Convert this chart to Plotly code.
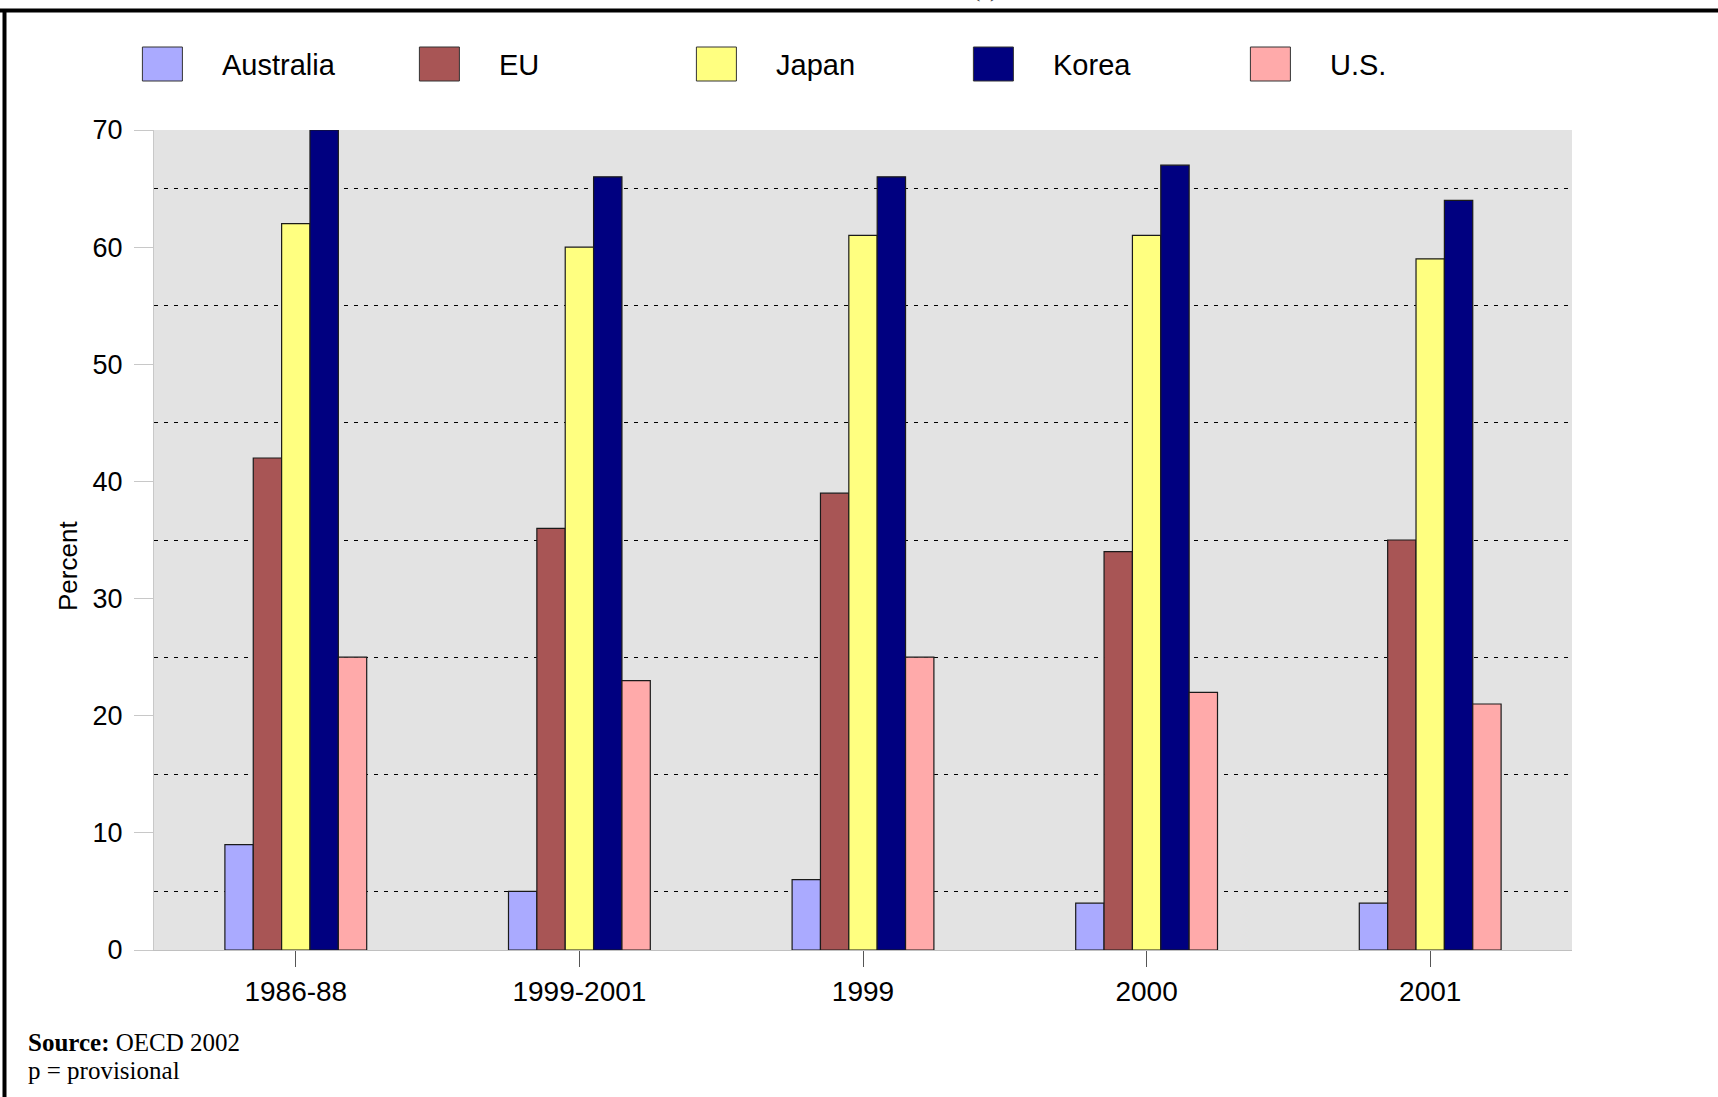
import plotly.graph_objects as go

periods = ['1986-88', '1999-2001', '1999', '2000', '2001']
countries = ['Australia', 'EU', 'Japan', 'Korea', 'U.S.']
australia = [9, 5, 6, 4, 4]
eu = [42, 36, 39, 34, 35]
japan = [62, 60, 61, 61, 59]
korea = [70, 66, 66, 67, 64]
us = [25, 23, 25, 22, 21]
colors = ['#aaaaff', '#a85555', '#ffff80', '#000080', '#ffaaaa']

W, H = 1718, 1097
L, R, T, B = 154, 146, 130, 147


def px_x(px):
    return (px - L) / (W - L - R)


def px_y(py):
    return (H - B - py) / (H - T - B)


fig = go.Figure()
for name, vals, col in zip(countries, [australia, eu, japan, korea, us], colors):
    fig.add_trace(go.Bar(x=periods, y=vals, name=name,
                         marker=dict(color=col, line=dict(color='#1a1a1a', width=1.2))))

fig.update_layout(
    width=W, height=H,
    margin=dict(l=L, r=R, t=T, b=B, pad=0),
    barmode='group', bargap=0.5, bargroupgap=0,
    plot_bgcolor='#e3e3e3', paper_bgcolor='white',
    showlegend=False,
    font=dict(family='Liberation Sans, Arial', color='black'),
)
fig.update_yaxes(range=[0, 70], tick0=0, dtick=10, showgrid=False, zeroline=False,
                 showline=True, linecolor='#c8c8c8', linewidth=1,
                 ticks='outside', ticklen=19, tickcolor='#c8c8c8', ticklabelstandoff=6,
                 tickfont=dict(size=27),
                 minor=dict(tick0=5, dtick=10, showgrid=True, gridcolor='black',
                            griddash='4px,6px', gridwidth=1, ticks=''))
fig.update_xaxes(showgrid=False, showline=True, linecolor='#c0c0c0', linewidth=1,
                 ticks='outside', ticklen=16, tickcolor='#555555',
                 tickfont=dict(size=28), ticklabelstandoff=0)

# custom legend with large swatches
for i, (name, col) in enumerate(zip(countries, colors)):
    x0 = 142.4 + 277 * i
    fig.add_shape(type='rect', xref='paper', yref='paper',
                  x0=px_x(x0), x1=px_x(x0 + 40), y0=px_y(81), y1=px_y(47),
                  fillcolor=col, line=dict(color='#333333', width=1))
    fig.add_annotation(text=name, xref='paper', yref='paper', x=px_x(x0 + 78), y=px_y(65),
                       xanchor='left', yanchor='middle', showarrow=False,
                       font=dict(size=29, color='black'))

# y axis title
fig.add_annotation(text='Percent', xref='paper', yref='paper', x=px_x(68), y=px_y(566),
                   textangle=-90, showarrow=False, xanchor='center', yanchor='middle',
                   font=dict(size=26, color='black'))

# clipped heading at the very top
fig.add_annotation(text='(a)', xref='paper', yref='paper', x=px_x(985), y=px_y(4),
                   xanchor='center', yanchor='bottom', showarrow=False,
                   font=dict(family='Liberation Serif', size=22, color='#333333'))

# source note
serif = 'Liberation Serif, Times New Roman'
fig.add_annotation(text='<b>Source:</b> OECD 2002', xref='paper', yref='paper',
                   x=px_x(26), y=px_y(1042), xanchor='left', yanchor='middle',
                   showarrow=False, font=dict(family=serif, size=25, color='black'))
fig.add_annotation(text='p = provisional', xref='paper', yref='paper',
                   x=px_x(26), y=px_y(1070), xanchor='left', yanchor='middle',
                   showarrow=False, font=dict(family=serif, size=25, color='black'))

# frame lines (top and left)
fig.add_shape(type='line', xref='paper', yref='paper', x0=px_x(0), x1=px_x(W),
              y0=px_y(10.5), y1=px_y(10.5), line=dict(color='black', width=4))
fig.add_shape(type='line', xref='paper', yref='paper', x0=px_x(4.5), x1=px_x(4.5),
              y0=px_y(9), y1=px_y(H), line=dict(color='black', width=4))

fig.write_html('out.html', config={'displayModeBar': False},
               post_script="document.body.style.margin='0';")
